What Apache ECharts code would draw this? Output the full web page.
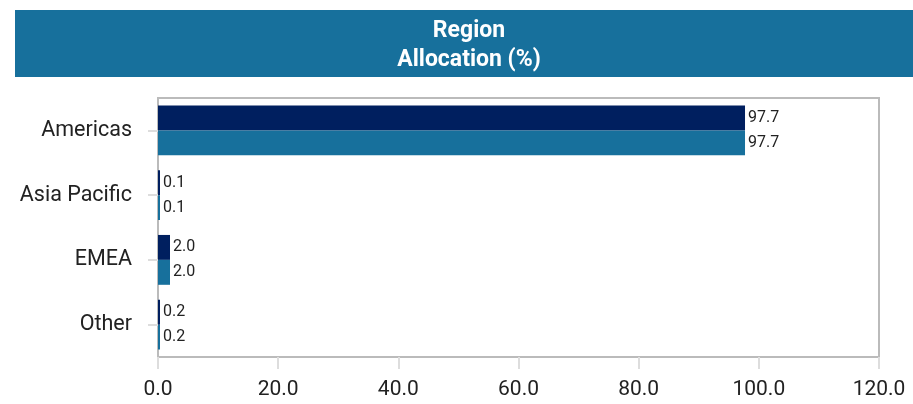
<!DOCTYPE html>
<html><head><meta charset="utf-8">
<script src="https://cdn.jsdelivr.net/npm/echarts@6/dist/echarts.min.js"></script>
<style>html,body{margin:0;padding:0;background:#fff}#c{width:913px;height:404px}</style>
</head><body><div id="c"></div>
<script>
var categories = ['Americas', 'Asia Pacific', 'EMEA', 'Other'];
var seriesA = [97.7, 0.1, 2.0, 0.2];
var seriesB = [97.7, 0.1, 2.0, 0.2];
var xTicks = {min: 0, max: 120, interval: 20};
var titleLines = ['Region', 'Allocation (%)'];

var chart = echarts.init(document.getElementById('c'), null, {renderer: 'canvas'});
var labelCfg = {show: true, position: 'right', distance: 3, color: '#222', fontFamily: 'Roboto', fontSize: 16,
  formatter: function (p) { return p.value.toFixed(1); }};
chart.setOption({
  animation: false,
  graphic: [
    {type: 'rect', left: 15, top: 10, shape: {width: 898, height: 67}, style: {fill: '#17709C'}, z: 0},
    {type: 'text', x: 469, y: 31, style: {text: titleLines[0], fill: '#fff', font: 'bold 23px Roboto', align: 'center', verticalAlign: 'middle'}, z: 1},
    {type: 'text', x: 469, y: 60, style: {text: titleLines[1], fill: '#fff', font: 'bold 23px Roboto', align: 'center', verticalAlign: 'middle'}, z: 1}
  ],
  grid: {left: 158, right: 34, top: 98, bottom: 47, show: true, z: 0, borderColor: '#bbb', borderWidth: 2, containLabel: false},
  xAxis: {type: 'value', min: xTicks.min, max: xTicks.max, interval: xTicks.interval,
    axisLine: {show: false}, splitLine: {show: false},
    axisTick: {show: true, length: 12, lineStyle: {color: '#ddd', width: 2}},
    axisLabel: {color: '#222', fontFamily: 'Roboto', fontSize: 21, margin: 22, formatter: function (v) { return v.toFixed(1); }}
  },
  yAxis: {type: 'category', data: categories, inverse: true,
    axisLine: {show: false}, splitLine: {show: false},
    axisTick: {show: true, length: 10, alignWithLabel: true, lineStyle: {color: '#ddd', width: 2}},
    axisLabel: {color: '#222', fontFamily: 'Roboto', fontSize: 21.5, margin: 26}
  },
  series: [
    {type: 'bar', z: 3, data: seriesA, barMinHeight: 2, itemStyle: {color: '#001F5F'}, barGap: '0%', barCategoryGap: '23%', label: labelCfg},
    {type: 'bar', z: 3, data: seriesB, barMinHeight: 2, itemStyle: {color: '#17709C'}, barGap: '0%', barCategoryGap: '23%', label: labelCfg}
  ]
});
</script></body></html>
